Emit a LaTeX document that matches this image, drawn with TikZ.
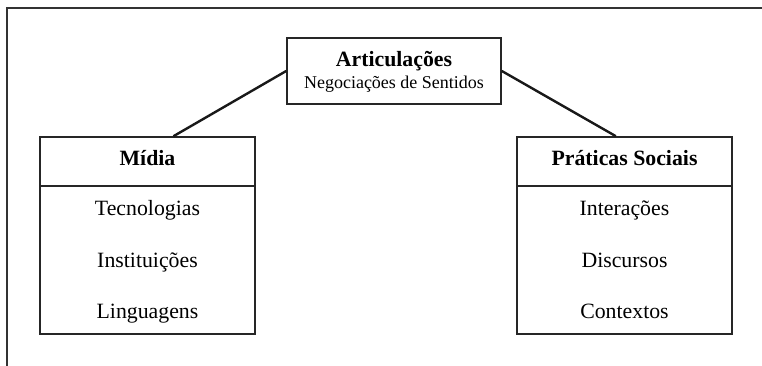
\documentclass[tikz,border=0pt]{standalone}
\usepackage{fontspec}
\setmainfont{Liberation Serif}
\usetikzlibrary{calc}
\begin{document}
\begin{tikzpicture}[x=1pt,y=-1pt,
  box/.style={draw=black!85, line width=1.6pt, rectangle, inner sep=0pt},
  title/.style={font=\fontsize{21.8}{24}\selectfont\bfseries, inner sep=0pt, anchor=base},
  item/.style={font=\fontsize{21.8}{24}\selectfont, inner sep=0pt, anchor=base},
  sub/.style={font=\fontsize{18}{20}\selectfont, inner sep=0pt, anchor=base},
  link/.style={line width=2.4pt, black!90},
  frame/.style={line width=1.3pt, black!80}]
\useasboundingbox (0,0) rectangle (762,366);
% outer frame
\coordinate (ftl) at (7,8);
\coordinate (ftr) at (762,8);
\coordinate (fbl) at (7,366);
\draw[frame] (ftr) -- (ftl) -- (fbl);
% top box
\node[box, minimum width=214pt, minimum height=66pt] (art) at (394,71) {};
\node[title] (artT) at (394,67) {Articulações};
\node[sub] (artS) at (394,88.5) {Negociações de Sentidos};
% left box
\node[box, minimum width=215pt, minimum height=197pt] (midia) at (147.5,235.5) {};
\draw[box] (midia.west |- 0,186) -- (midia.east |- 0,186);
\node[title] (midiaT) at (147.5,166) {Mídia};
\node[item] (m1) at (147.5,215.5) {Tecnologias};
\node[item] (m2) at (147.5,267.5) {Instituições};
\node[item] (m3) at (147.5,318.5) {Linguagens};
% right box
\node[box, minimum width=215pt, minimum height=197pt] (prat) at (624.5,235.5) {};
\draw[box] (prat.west |- 0,186) -- (prat.east |- 0,186);
\node[title] (pratT) at (624.5,166) {Práticas Sociais};
\node[item] (p1) at (624.5,215.5) {Interações};
\node[item] (p2) at (624.5,267.5) {Discursos};
\node[item] (p3) at (624.5,318.5) {Contextos};
% connectors
\draw[link] (art.west) -- ($(midia.north west)!0.62!(midia.north east)$);
\draw[link] (art.east) -- ($(prat.north west)!0.46!(prat.north east)$);
\end{tikzpicture}
\end{document}
